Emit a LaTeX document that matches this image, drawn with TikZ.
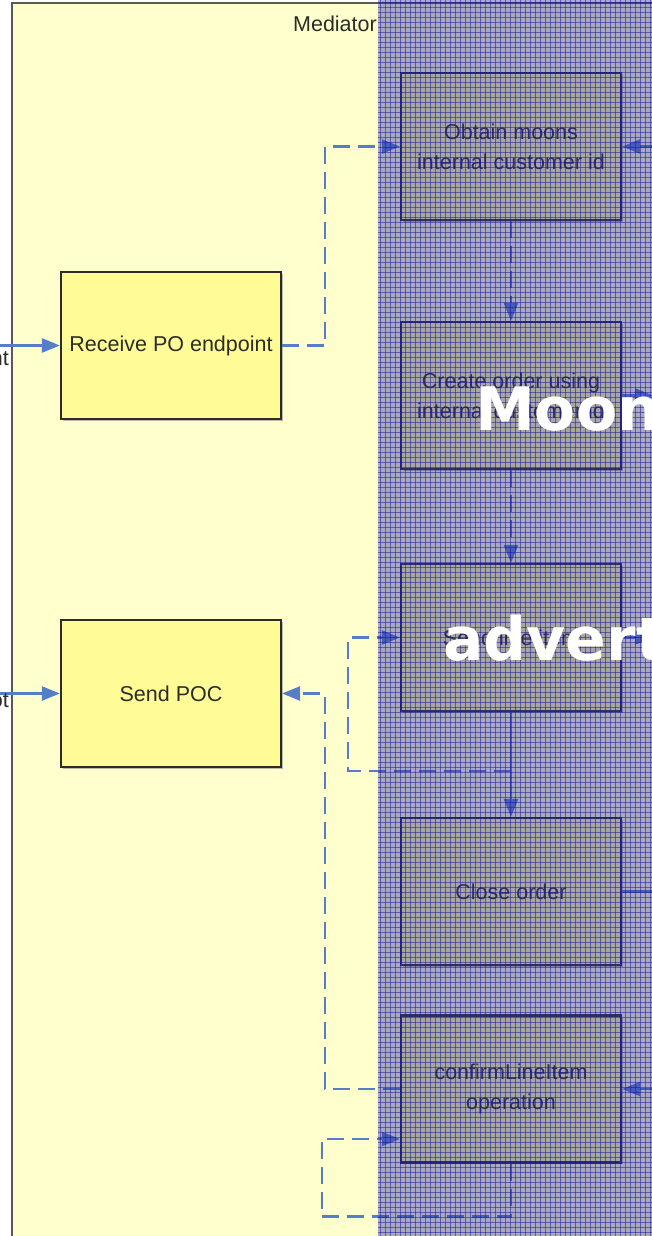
\documentclass[tikz,border=0pt]{standalone}
\usepackage{fontspec}
\setmainfont{Liberation Sans}
\newfontfamily\bannerfont{DejaVu Sans}
\usetikzlibrary{arrows.meta,shadows}

\definecolor{poolfill}{RGB}{255,255,206}
\definecolor{taskfill}{RGB}{255,251,150}
\definecolor{flowblue}{RGB}{85,125,200}
\definecolor{gridblue}{RGB}{20,20,150}
\definecolor{hatchblue}{RGB}{50,50,175}
\definecolor{inkgray}{RGB}{45,45,40}

\begin{document}
\begin{tikzpicture}[x=1pt,y=-1pt,
  label font/.style={font=\fontsize{21.5}{30}\selectfont,text=inkgray},
  task/.style={draw=inkgray,line width=2.2pt,fill=taskfill,
    minimum width=220pt,minimum height=147pt,inner sep=0pt,align=center,
    label font,
    drop shadow={shadow xshift=1.5pt,shadow yshift=-1.5pt,fill=black!45,opacity=0.6}},
  seq/.style={draw=flowblue,line width=2.4pt},
  msg/.style={draw=flowblue,line width=2.4pt,dash pattern=on 17pt off 8pt},
  tip/.style={-{Triangle[length=18pt,width=14pt]}},
  gridline/.style={draw=gridblue,line width=0.9pt,opacity=0.5},
  banner/.style={font=\bannerfont\bfseries\fontsize{60}{60}\selectfont,
    text=white,inner sep=0pt}]

\useasboundingbox (0,0) rectangle (652,1236);
\fill[white] (0,0) rectangle (652,1236);

% Mediator pool
\fill[poolfill] (12,3) rectangle (700,1245);
\draw[black!65,line width=2pt] (12,1245) -- (12,3) -- (700,3);
\node[label font,anchor=base east,inner sep=0pt] (pool) at (377,32) {Mediator};

% tasks
\node[task] (recv)    at (171,345.5) {Receive PO endpoint};
\node[task] (send)    at (171,693.5) {Send POC};
\node[task] (obtain)  at (511,146.5) {Obtain moons\\internal customer id};
\node[task] (create)  at (511,395.5) {Create order using\\internal customer id};
\node[task] (line)    at (511,637.5) {Send line item};
\node[task] (close)   at (511,891.5) {Close order};
\node[task] (confirm) at (511,1089)  {confirmLineItem\\operation};

% incoming flows from the left
\coordinate (inA) at (-5,345.5);
\coordinate (inB) at (-5,693.5);
\draw[seq,tip] (inA) -- (recv.west);
\draw[seq,tip] (inB) -- (send.west);
\node[label font,anchor=base east,inner sep=0pt] (lblA) at (9,365) {nt};
\node[label font,anchor=base east,inner sep=0pt] (lblB) at (9,707) {ot};

% flows inside the mediator
\draw[msg,tip] (recv.east) -- ++(43,0) |- (obtain.west);
\draw[msg,tip] (obtain.south) -- (create.north);
\draw[msg,tip] (create.south) -- (line.north);
\draw[seq,tip] (line.south) -- (close.north);
\coordinate (loopA) at (511,771);
\draw[msg,tip] (loopA) -- ++(-163,0) |- (line.west);
\draw[msg,tip] (confirm.west) -- ++(-75,0) |- (send.east);
\draw[msg,tip] (confirm.south) -- ++(0,53)
  -| ([xshift=-78pt,yshift=-50pt]confirm.west) -- ([yshift=-50pt]confirm.west);

% flows to and from the right
\coordinate (rA) at (665,146.5);
\coordinate (rB) at (653,395.5);
\coordinate (rC) at (653,637.5);
\coordinate (rD) at (665,891.5);
\coordinate (rE) at (665,1089);
\draw[seq,tip] (rA) -- (obtain.east);
\draw[seq,tip] (create.east) -- (rB);
\draw[seq,tip] (line.east) -- (rC);
\draw[seq] (close.east) -- (rD);
\draw[seq,tip] (rE) -- (confirm.east);

% hatched blue band
\fill[hatchblue,opacity=0.42] (378,0) rectangle (652,1236);
\foreach \gx in {380,385,...,650} \draw[gridline] (\gx,0) -- (\gx,1236);
\foreach \gy in {2,7,...,1236} \draw[gridline] (378,\gy) -- (652,\gy);

% white lettering
\node[banner,anchor=base west] (wordA) at (475,430) {Moon};
\node[banner,anchor=base west] (wordB) at (443,660) {advert};
\end{tikzpicture}
\end{document}
